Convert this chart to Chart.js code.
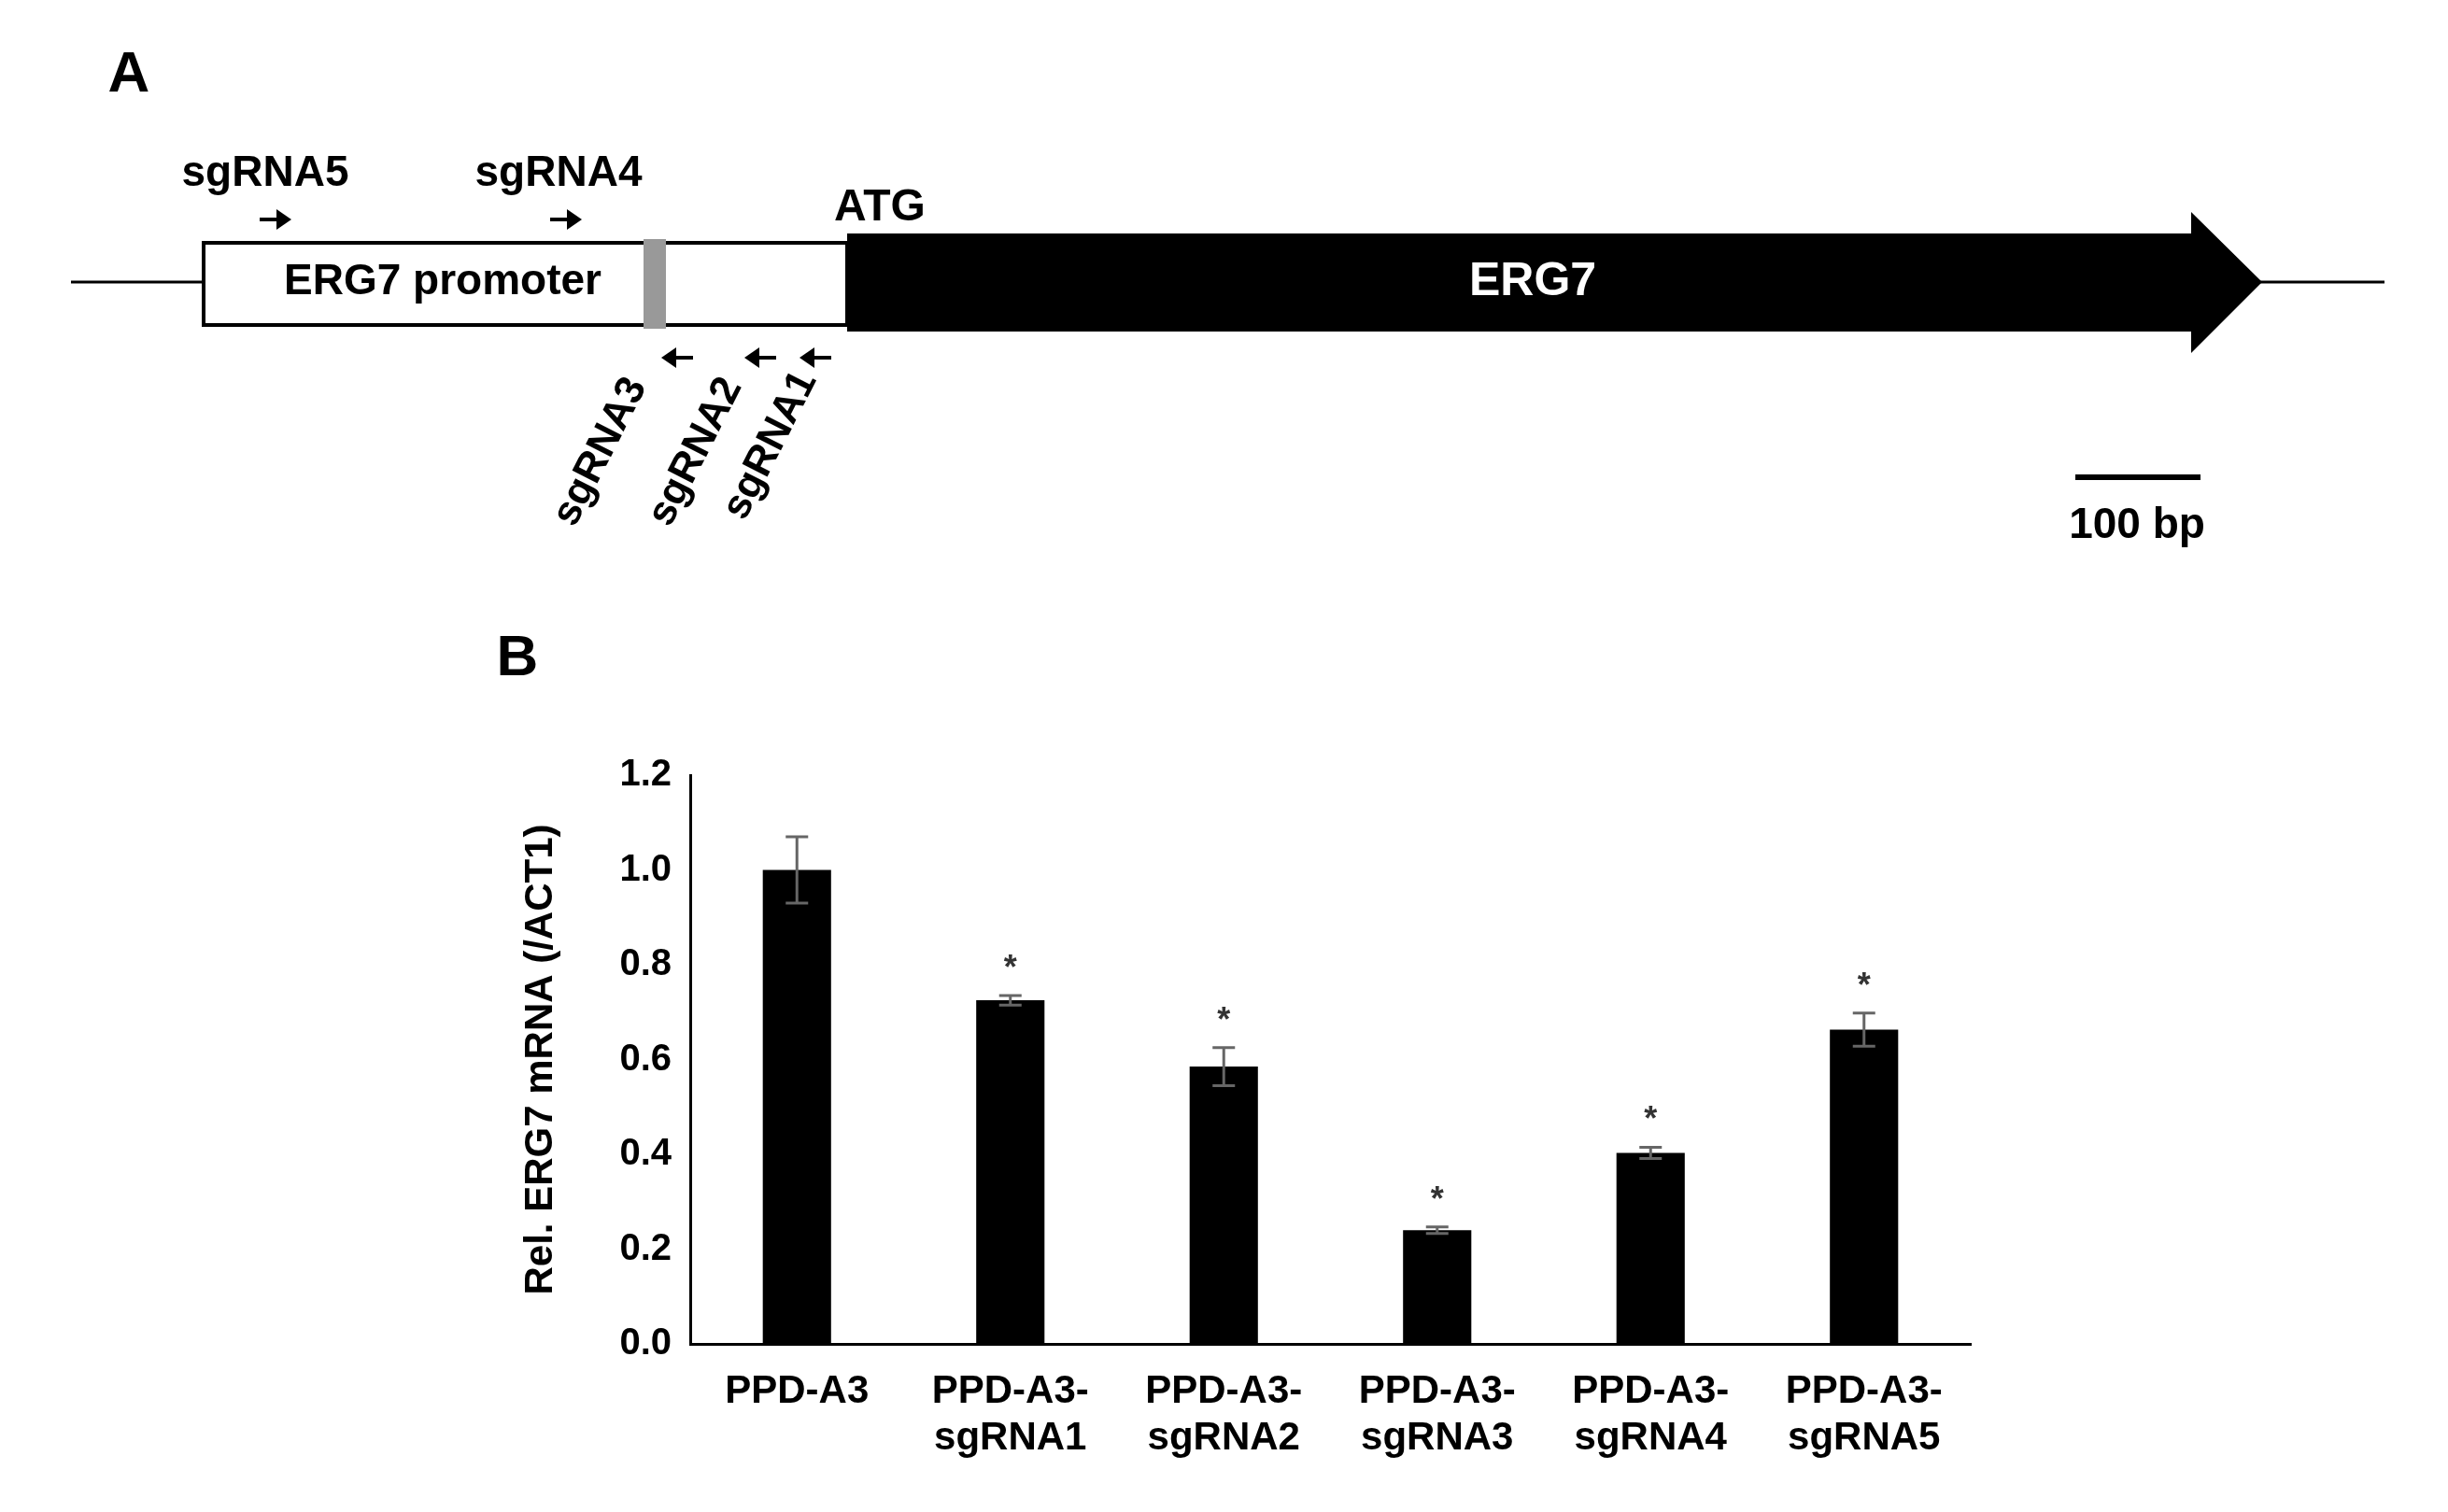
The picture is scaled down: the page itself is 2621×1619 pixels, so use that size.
<!DOCTYPE html>
<html><head><meta charset="utf-8">
<script src="https://cdn.jsdelivr.net/npm/chart.js@4"></script>
<style>html,body{margin:0;padding:0;background:#fff}canvas{display:block}</style>
</head><body>
<div style="width:2621px;height:1619px"><canvas id="c" width="2621" height="1619"></canvas></div>
<script>
const categories = [["PPD-A3"],["PPD-A3-","sgRNA1"],["PPD-A3-","sgRNA2"],["PPD-A3-","sgRNA3"],["PPD-A3-","sgRNA4"],["PPD-A3-","sgRNA5"]];
const values = [1.0, 0.725, 0.585, 0.24, 0.403, 0.663];
const errors = [0.07, 0.01, 0.04, 0.007, 0.012, 0.035];
const significant = [false, true, true, true, true, true];
const yTicks = [0, 0.2, 0.4, 0.6, 0.8, 1.0, 1.2];
const F = '"Liberation Sans", Arial, sans-serif';

const panelA = {
  id: 'panelA',
  afterDraw(chart) {
    const c = chart.ctx;
    c.save();
    c.fillStyle = '#000'; c.strokeStyle = '#000';
    c.font = 'bold 62px ' + F; c.textAlign = 'center'; c.textBaseline = 'middle';
    c.fillText('A', 138, 81);
    c.fillText('B', 554, 706);
    c.lineWidth = 3;
    c.beginPath(); c.moveTo(76, 302); c.lineTo(2553, 302); c.stroke();
    c.fillStyle = '#fff'; c.fillRect(218, 260, 689, 88);
    c.lineWidth = 4; c.strokeRect(218, 260, 689, 88);
    c.fillStyle = '#999'; c.fillRect(689, 256, 24, 96);
    c.fillStyle = '#000';
    c.beginPath();
    c.moveTo(907, 250); c.lineTo(2346, 250); c.lineTo(2346, 227); c.lineTo(2422, 302);
    c.lineTo(2346, 378); c.lineTo(2346, 355); c.lineTo(907, 355); c.closePath(); c.fill();
    c.fillStyle = '#fff'; c.font = 'bold 50px ' + F;
    c.fillText('ERG7', 1641, 302);
    c.fillStyle = '#000'; c.font = 'bold 46px ' + F;
    c.fillText('ERG7 promoter', 474, 302);
    c.fillText('sgRNA5', 284, 186);
    c.fillText('sgRNA4', 598, 186);
    c.fillText('100 bp', 2288, 563);
    c.font = 'bold 48px ' + F;
    c.fillText('ATG', 942, 223);
    c.lineWidth = 6; c.beginPath(); c.moveTo(2222, 511); c.lineTo(2356, 511); c.stroke();
    function arrow(x, y, dir) {
      c.lineWidth = 4; c.beginPath(); c.moveTo(x - 16 * dir, y); c.lineTo(x + 4 * dir, y); c.stroke();
      c.beginPath(); c.moveTo(x + 18 * dir, y); c.lineTo(x + 2 * dir, y - 11); c.lineTo(x + 2 * dir, y + 11); c.closePath(); c.fill();
    }
    arrow(294, 235, 1); arrow(605, 235, 1);
    arrow(726, 383, -1); arrow(815, 383, -1); arrow(874, 383, -1);
    c.font = 'bold 44px ' + F;
    [['sgRNA3', 643, 484], ['sgRNA2', 745, 484], ['sgRNA1', 825, 477]].forEach(([t, x, y]) => {
      c.save(); c.translate(x, y); c.rotate(-1.1); c.fillText(t, 0, 0); c.restore();
    });
    const xs = chart.scales.x, ys = chart.scales.y;
    c.strokeStyle = '#666'; c.lineWidth = 3;
    values.forEach((v, i) => {
      const x = xs.getPixelForValue(i);
      const t = ys.getPixelForValue(v + errors[i]), b = ys.getPixelForValue(v - errors[i]);
      c.beginPath(); c.moveTo(x, t); c.lineTo(x, b);
      c.moveTo(x - 12, t); c.lineTo(x + 12, t); c.moveTo(x - 12, b); c.lineTo(x + 12, b); c.stroke();
      if (significant[i]) { c.fillStyle = '#333'; c.font = 'bold 36px ' + F; c.fillText('*', x, t - 28); }
    });
    c.restore();
  }
};

new Chart(document.getElementById('c'), {
  type: 'bar',
  data: { labels: categories, datasets: [{ data: values, backgroundColor: '#000', barPercentage: 0.32, categoryPercentage: 1 }] },
  options: {
    responsive: false, animation: false, devicePixelRatio: 1,
    layout: { padding: { left: 540, right: 511, top: 830, bottom: 20 } },
    plugins: { legend: { display: false }, tooltip: { enabled: false } },
    scales: {
      x: {
        grid: { display: false, drawTicks: false },
        border: { color: '#000', width: 3 },
        ticks: { color: '#000', font: { family: F, weight: 'bold', size: 42 }, padding: 26, maxRotation: 0 },
        afterFit(s) { s.height = 160; }
      },
      y: {
        min: 0, max: 1.2,
        afterBuildTicks(s) { s.ticks = yTicks.map(v => ({ value: v })); },
        grid: { display: false, drawTicks: true, tickLength: 10, tickColor: '#000' },
        border: { color: '#000', width: 3 },
        ticks: { color: '#000', font: { family: F, weight: 'bold', size: 40 }, padding: 10, callback: v => v.toFixed(1) },
        title: { display: true, text: 'Rel. ERG7 mRNA (/ACT1)', color: '#000', font: { family: F, weight: 'bold', size: 42 }, padding: 14 },
        afterFit(s) { s.width = 199; }
      }
    }
  },
  plugins: [panelA]
});
</script>
</body></html>
